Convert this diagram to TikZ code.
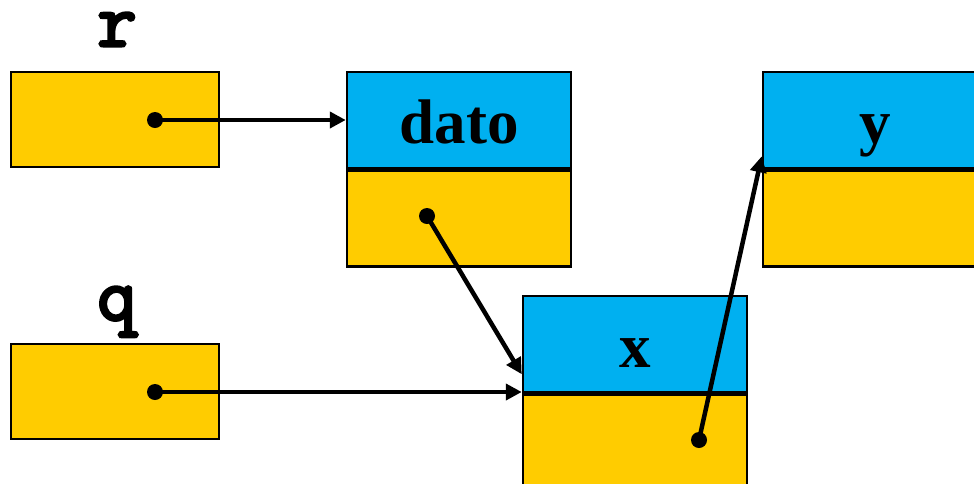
\documentclass[tikz,border=0pt]{standalone}
\usepackage{fontspec}
\setmainfont{Liberation Serif}
\newfontfamily\courb{Latin Modern Mono}[FakeBold=4]
\usetikzlibrary{arrows.meta,calc}
\definecolor{cellblue}{HTML}{00B0F0}
\definecolor{cellyellow}{HTML}{FFCC00}
\tikzset{
  ptrbox/.style={draw=black,line width=2.5pt,fill=cellyellow,minimum width=208pt,minimum height=95pt,inner sep=0pt},
  datacell/.style={draw=black,line width=2.5pt,fill=cellblue,minimum width=224pt,minimum height=96pt,inner sep=0pt,
    text height=50pt,text depth=4pt,font=\fontsize{63}{63}\selectfont\bfseries},
  linkcell/.style={draw=black,line width=2.5pt,fill=cellyellow,minimum width=224pt,minimum height=96pt,inner sep=0pt},
  varname/.style={font=\courb\fontsize{76}{76}\selectfont,inner sep=0pt,anchor=base},
  link/.style={line width=4.5pt,-{Triangle[length=16pt,width=16pt]}},
  dot/.style={circle,fill=black,inner sep=0pt,minimum size=16pt}
}
\begin{document}
\begin{tikzpicture}[x=1pt,y=-1pt]
\useasboundingbox (0,0) rectangle (974,483);
\clip (0,0) rectangle (974,483);
% pointer variables
\node[varname] (rname) at (117,46) {r};
\node[ptrbox] (rbox) at (115,119.5) {};
\node[varname] (qname) at (117,320) {q};
\node[ptrbox] (qbox) at (115,391.5) {};
% list cells
\node[datacell] (dtop) at (459,120) {dato};
\node[linkcell,anchor=north] (dbot) at (dtop.south) {};
\node[datacell] (xtop) at (635,344) {x};
\node[linkcell,anchor=north] (xbot) at (xtop.south) {};
\node[datacell] (ytop) at (875,120) {y};
\node[linkcell,anchor=north] (ybot) at (ytop.south) {};
% pointer origins
\node[dot] (rp) at (155,120) {};
\node[dot] (qp) at (155,392) {};
\node[dot] (dp) at (427,216) {};
\node[dot] (xp) at (699,440) {};
\coordinate (xin) at ($(xtop.south west)+(0,-19)$);
\coordinate (yin) at ($(ytop.south west)+(0,-13)$);
% links
\draw[link] (rp.center) -- (rp.center -| dtop.west);
\draw[link] (qp.center) -- (qp.center -| xtop.west);
\draw[link] (dp.center) -- (xin);
\draw[link] (xp.center) -- (yin);
\end{tikzpicture}
\end{document}
